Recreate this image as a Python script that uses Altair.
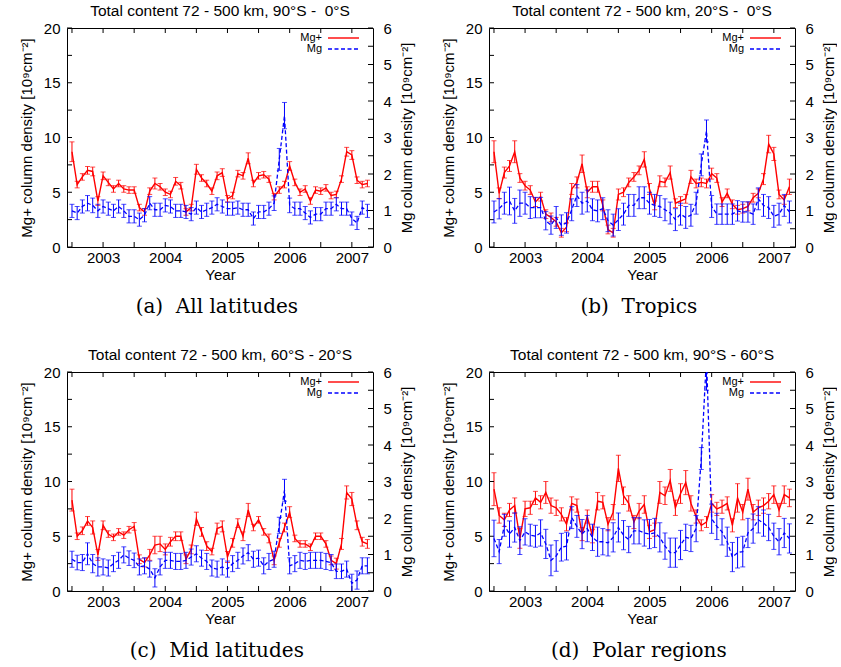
import altair as alt
import pandas as pd

# ---------------- data: monthly means, Jul 2002 .. Apr 2007 ----------------
MONTHS = pd.period_range("2002-07", "2007-04", freq="M")
YEAR = [m.year + (m.month - 1) / 12 for m in MONTHS]

# (a) All latitudes, 90S-0S
A_MGP = [8.7, 5.7, 6.4, 7.0, 6.9, 4.2, 6.5, 5.9, 5.3, 5.8,
         5.3, 5.2, 5.2, 3.6, 3.2, 5.1, 5.8, 5.5, 5.0, 4.8,
         6.0, 5.6, 3.2, 3.6, 7.1, 6.3, 5.8, 5.1, 6.5, 6.8,
         4.4, 4.7, 6.7, 6.5, 8.1, 5.8, 6.5, 6.6, 6.2, 4.6,
         5.2, 5.7, 7.4, 5.9, 5.0, 5.3, 4.2, 5.2, 5.1, 5.4,
         4.7, 4.8, 6.2, 8.7, 8.4, 6.1, 5.7, 5.8]
A_MGP_ERR = [0.9, 0.3, 0.3, 0.35, 0.4, 0.4, 0.35, 0.3, 0.3, 0.3,
             0.3, 0.3, 0.3, 0.3, 0.3, 0.3, 0.5, 0.3, 0.3, 0.3,
             0.35, 0.3, 0.3, 0.3, 0.45, 0.3, 0.3, 0.3, 0.35, 0.35,
             0.3, 0.3, 0.3, 0.3, 0.5, 0.3, 0.3, 0.3, 0.3, 0.3,
             0.3, 0.3, 0.4, 0.3, 0.3, 0.3, 0.3, 0.3, 0.3, 0.3,
             0.3, 0.3, 0.3, 0.4, 0.4, 0.3, 0.3, 0.3]
A_MG = [0.99, 0.93, 1.11, 1.2, 1.14, 0.99, 1.11, 1.05, 0.99, 1.11,
        0.99, 0.84, 0.84, 0.75, 0.87, 1.2, 1.02, 1.02, 1.14, 1.11,
        0.99, 0.99, 0.96, 0.9, 1.08, 0.96, 1.02, 1.08, 1.17, 1.11,
        1.05, 1.05, 1.08, 1.02, 1.02, 0.78, 0.96, 0.96, 1.05, 1.2,
        2.4, 3.6, 1.14, 1.05, 1.05, 0.93, 0.81, 0.9, 0.9, 1.05,
        1.05, 1.17, 1.05, 1.05, 0.78, 0.66, 1.08, 0.99]
A_MG_ERR = [0.18, 0.18, 0.18, 0.21, 0.2, 0.18, 0.18, 0.18, 0.18, 0.18,
            0.18, 0.18, 0.18, 0.18, 0.18, 0.18, 0.18, 0.18, 0.18, 0.18,
            0.18, 0.18, 0.18, 0.18, 0.18, 0.18, 0.18, 0.18, 0.18, 0.18,
            0.18, 0.18, 0.18, 0.18, 0.18, 0.18, 0.18, 0.18, 0.18, 0.2,
            0.3, 0.36, 0.2, 0.18, 0.18, 0.18, 0.18, 0.18, 0.18, 0.18,
            0.18, 0.18, 0.18, 0.18, 0.18, 0.18, 0.18, 0.18]

# (b) Tropics, 20S-0S
B_MGP = [8.7, 4.9, 6.8, 7.4, 8.7, 6.3, 5.6, 5.2, 4.1, 4.6,
         3.0, 2.7, 2.3, 1.3, 1.8, 5.3, 5.9, 7.6, 5.0, 5.5,
         5.5, 3.8, 1.6, 1.3, 4.8, 5.0, 5.9, 6.4, 7.0, 8.0,
         5.3, 3.8, 6.0, 5.9, 6.8, 4.0, 4.2, 4.4, 6.4, 5.8,
         5.9, 5.8, 6.7, 6.3, 4.1, 4.9, 3.9, 3.4, 3.5, 3.7,
         4.5, 4.9, 6.2, 9.4, 8.5, 4.8, 4.3, 5.5]
B_MGP_ERR = [1.0, 0.5, 0.5, 0.5, 1.0, 0.4, 0.4, 0.4, 0.4, 0.4,
             0.4, 0.4, 0.4, 0.4, 0.4, 0.5, 0.5, 0.8, 0.5, 0.5,
             0.5, 0.5, 0.4, 0.4, 0.5, 0.4, 0.4, 0.4, 0.4, 0.7,
             0.5, 0.4, 0.5, 0.4, 0.6, 0.4, 0.4, 0.4, 0.6, 0.4,
             0.4, 0.4, 0.5, 0.4, 0.4, 0.4, 0.4, 0.4, 0.4, 0.4,
             0.4, 0.4, 0.5, 0.8, 0.6, 0.4, 0.4, 0.7]
B_MG = [0.96, 1.05, 1.2, 1.26, 0.99, 1.2, 1.2, 1.08, 1.08, 1.08,
        0.72, 0.6, 0.81, 0.6, 0.66, 1.02, 1.41, 1.2, 1.26, 1.02,
        0.99, 1.05, 0.72, 0.6, 0.75, 0.9, 1.14, 1.14, 1.35, 1.35,
        1.2, 1.14, 1.11, 1.02, 0.93, 0.75, 0.9, 0.81, 0.87, 1.2,
        2.25, 3.18, 1.11, 0.9, 0.9, 0.9, 0.9, 0.99, 0.96, 0.96,
        0.9, 1.32, 1.14, 1.08, 0.84, 0.9, 1.14, 0.96]
B_MG_ERR = [0.3, 0.28, 0.3, 0.38, 0.34, 0.36, 0.3, 0.3, 0.28, 0.28,
            0.25, 0.25, 0.3, 0.28, 0.28, 0.3, 0.3, 0.3, 0.3, 0.3,
            0.3, 0.3, 0.3, 0.3, 0.3, 0.3, 0.3, 0.3, 0.3, 0.3,
            0.3, 0.3, 0.3, 0.3, 0.3, 0.3, 0.3, 0.3, 0.3, 0.3,
            0.3, 0.3, 0.3, 0.28, 0.28, 0.28, 0.28, 0.28, 0.28, 0.28,
            0.28, 0.3, 0.3, 0.3, 0.3, 0.3, 0.3, 0.3]

# (c) Mid latitudes, 60S-20S
C_MGP = [8.3, 5.0, 5.5, 6.4, 5.8, 3.3, 6.0, 5.2, 4.9, 5.4,
         5.1, 5.6, 5.9, 2.9, 2.6, 3.3, 4.2, 4.3, 3.8, 4.5,
         5.0, 5.0, 2.9, 3.8, 6.6, 5.4, 4.1, 3.6, 5.7, 5.9,
         3.1, 4.4, 6.2, 5.0, 7.4, 5.8, 6.5, 5.4, 4.8, 2.8,
         4.4, 5.8, 7.2, 4.8, 4.3, 4.3, 4.0, 5.0, 5.0, 4.3,
         2.8, 2.5, 4.3, 9.0, 8.4, 6.0, 4.5, 4.3]
C_MGP_ERR = [1.0, 0.3, 0.35, 0.4, 0.6, 0.5, 0.4, 0.3, 0.3, 0.3,
             0.3, 0.3, 0.35, 0.4, 0.4, 0.5, 0.8, 0.7, 0.5, 0.4,
             0.4, 0.4, 0.4, 0.4, 0.6, 0.4, 0.4, 0.3, 0.5, 0.5,
             0.5, 0.4, 0.4, 0.4, 0.6, 0.3, 0.3, 0.3, 0.4, 0.4,
             0.4, 0.4, 0.5, 0.3, 0.3, 0.3, 0.3, 0.3, 0.3, 0.3,
             0.4, 0.5, 0.5, 0.6, 0.6, 0.4, 0.4, 0.4]
C_MG = [0.87, 0.78, 0.78, 1.02, 0.75, 0.66, 0.66, 0.63, 0.75, 0.84,
        0.99, 0.9, 0.84, 0.66, 0.69, 0.6, 0.36, 0.66, 0.84, 0.84,
        0.81, 0.81, 0.84, 0.93, 1.02, 0.9, 0.81, 0.63, 0.6, 0.66,
        0.6, 0.75, 0.84, 0.96, 1.05, 0.87, 0.9, 0.69, 0.81, 0.87,
        1.8, 2.76, 0.69, 0.75, 0.84, 0.81, 0.84, 0.84, 0.84, 0.81,
        0.78, 0.54, 0.54, 0.6, 0.21, 0.3, 0.69, 0.69]
C_MG_ERR = [0.22, 0.2, 0.22, 0.3, 0.25, 0.25, 0.22, 0.22, 0.22, 0.22,
            0.22, 0.2, 0.2, 0.22, 0.22, 0.22, 0.25, 0.22, 0.22, 0.22,
            0.22, 0.22, 0.22, 0.22, 0.22, 0.22, 0.22, 0.22, 0.22, 0.22,
            0.22, 0.22, 0.22, 0.22, 0.22, 0.22, 0.22, 0.22, 0.22, 0.22,
            0.22, 0.3, 0.22, 0.22, 0.22, 0.22, 0.22, 0.22, 0.22, 0.22,
            0.22, 0.2, 0.2, 0.22, 0.25, 0.25, 0.22, 0.22]

# (d) Polar regions, 90S-60S
D_MGP = [9.3, 6.9, 6.5, 7.4, 7.8, 4.8, 7.5, 7.6, 8.5, 8.1,
         9.0, 7.8, 7.6, 7.0, 6.1, 8.0, 7.8, 5.2, 6.8, 5.0,
         8.2, 8.1, 6.1, 7.2, 11.2, 8.7, 8.0, 6.3, 7.3, 7.9,
         5.4, 5.6, 9.0, 8.7, 10.1, 7.6, 8.9, 9.9, 8.0, 6.8,
         6.0, 6.3, 8.0, 7.5, 7.7, 8.0, 6.0, 8.5, 7.2, 9.3,
         7.2, 7.6, 7.8, 8.2, 8.8, 7.4, 8.8, 8.5]
D_MGP_ERR = [1.5, 0.7, 0.6, 0.6, 0.7, 0.9, 0.7, 0.6, 0.6, 0.6,
             1.0, 0.7, 0.7, 0.6, 0.6, 0.6, 0.6, 0.6, 0.6, 0.6,
             0.8, 0.6, 0.6, 0.7, 1.2, 0.8, 0.7, 0.6, 0.7, 0.8,
             0.6, 0.6, 1.0, 0.8, 1.0, 0.7, 0.9, 1.1, 0.7, 0.6,
             0.5, 0.5, 0.8, 0.6, 0.6, 0.6, 0.6, 1.3, 0.7, 1.0,
             0.7, 0.7, 0.7, 0.7, 0.8, 0.6, 0.8, 0.8]
D_MG = [1.44, 1.08, 1.8, 1.56, 1.74, 1.38, 1.62, 1.53, 1.5, 1.59,
        1.29, 0.84, 0.96, 1.2, 1.23, 2.01, 1.77, 1.56, 1.71, 1.47,
        1.35, 1.35, 1.32, 1.47, 1.74, 1.53, 1.41, 1.65, 1.65, 1.59,
        1.56, 1.59, 1.47, 1.23, 1.05, 1.05, 1.26, 1.47, 1.44, 1.71,
        3.63, 6.4, 1.98, 1.77, 1.62, 1.35, 0.93, 1.05, 1.08, 1.59,
        1.71, 1.95, 1.86, 1.74, 1.5, 1.35, 1.59, 1.44]
D_MG_ERR = [0.5, 0.33, 0.3, 0.36, 0.4, 0.38, 0.36, 0.3, 0.3, 0.36,
            0.4, 0.42, 0.42, 0.38, 0.38, 0.3, 0.3, 0.4, 0.36, 0.36,
            0.4, 0.36, 0.36, 0.4, 0.4, 0.4, 0.36, 0.36, 0.36, 0.36,
            0.4, 0.4, 0.4, 0.36, 0.4, 0.4, 0.4, 0.36, 0.36, 0.36,
            0.3, 0.9, 0.4, 0.36, 0.36, 0.4, 0.4, 0.42, 0.42, 0.4,
            0.4, 0.36, 0.36, 0.36, 0.36, 0.36, 0.4, 0.4]

PANELS = [
    ("(a)\u00a0\u00a0All latitudes", "Total content 72 - 500 km, 90°S - \u00a00°S", A_MGP, A_MGP_ERR, A_MG, A_MG_ERR),
    ("(b)\u00a0\u00a0Tropics", "Total content 72 - 500 km, 20°S - \u00a00°S", B_MGP, B_MGP_ERR, B_MG, B_MG_ERR),
    ("(c)\u00a0\u00a0Mid latitudes", "Total content 72 - 500 km, 60°S - 20°S", C_MGP, C_MGP_ERR, C_MG, C_MG_ERR),
    ("(d)\u00a0\u00a0Polar regions", "Total content 72 - 500 km, 90°S - 60°S", D_MGP, D_MGP_ERR, D_MG, D_MG_ERR),
]

LEGEND_LABELS = ["Mg+", "Mg"]
X_DOMAIN = [2002.42, 2007.34]
X_LABELS = [2003, 2004, 2005, 2006, 2007]
X_TICKS = [2002.5, 2003.0, 2003.5, 2004.0, 2004.5, 2005.0, 2005.5, 2006.0, 2006.5, 2007.0]
YL_LABELS = [0, 5, 10, 15, 20]
YL_TICKS = [0, 2.5, 5, 7.5, 10, 12.5, 15, 17.5, 20]
YR_LABELS = [0, 1, 2, 3, 4, 5, 6]
YR_TICKS = [0, 0.5, 1, 1.5, 2, 2.5, 3, 3.5, 4, 4.5, 5, 5.5, 6]

W, H = 306, 219
RED, BLUE = "#ff0000", "#0000ff"
SANS = "Liberation Sans"
SERIF = "DejaVu Serif"


def panel(caption, title, mgp, mgp_err, mg, mg_err):
    df = pd.DataFrame({"year": YEAR, "mgp": mgp, "mgp_err": mgp_err, "mg": mg, "mg_err": mg_err})
    df["mgp_lo"] = df["mgp"] - df["mgp_err"]
    df["mgp_hi"] = df["mgp"] + df["mgp_err"]
    df["mg_lo"] = df["mg"] - df["mg_err"]
    df["mg_hi"] = df["mg"] + df["mg_err"]

    xs = alt.Scale(domain=X_DOMAIN, nice=False, zero=False)
    xaxis = alt.Axis(values=X_LABELS, format="d", title="Year", labelPadding=3, titlePadding=2)

    def X(f):
        return alt.X(f + ":Q", scale=xs, axis=xaxis)

    ls = alt.Scale(domain=[0, 20], nice=False, zero=False)
    laxis = alt.Axis(values=YL_LABELS, title="Mg+ column density [10⁹cm⁻²]", labelPadding=7, titlePadding=9)
    rs = alt.Scale(domain=[0, 6], nice=False, zero=False)
    raxis = alt.Axis(orient="right", values=YR_LABELS, title="Mg column density [10⁹cm⁻²]",
                     labelPadding=10, titlePadding=8, titleAngle=270, titleBaseline="top")

    def YL(f):
        return alt.Y(f + ":Q", scale=ls, axis=laxis)

    def YR(f):
        return alt.Y(f + ":Q", scale=rs, axis=raxis)

    base = alt.Chart(df)
    leg = pd.DataFrame({"t": LEGEND_LABELS})

    red = alt.layer(
        base.mark_rule(color=RED, strokeWidth=1, clip=True).encode(x=X("year"), y=YL("mgp_lo"), y2="mgp_hi:Q"),
        base.mark_tick(color=RED, orient="horizontal", size=5, thickness=1, clip=True).encode(x=X("year"), y=YL("mgp_lo")),
        base.mark_tick(color=RED, orient="horizontal", size=5, thickness=1, clip=True).encode(x=X("year"), y=YL("mgp_hi")),
        base.mark_line(color=RED, strokeWidth=1.4, clip=True).encode(x=X("year"), y=YL("mgp")),
        alt.Chart(pd.DataFrame({"xt": X_TICKS})).mark_rule(color="black").encode(
            x=X("xt"), y=alt.value(H), y2=alt.value(H - 5)),
        alt.Chart(pd.DataFrame({"xt": X_TICKS})).mark_rule(color="black").encode(
            x=X("xt"), y=alt.value(0), y2=alt.value(5)),
        alt.Chart(pd.DataFrame({"yt": YL_TICKS})).mark_rule(color="black").encode(
            y=YL("yt"), x=alt.value(0), x2=alt.value(5)),
        alt.Chart(leg).transform_filter(alt.datum.t == "Mg+").mark_text(
            align="right", baseline="middle", font=SANS, fontSize=11, color="black").encode(
            text="t:N", x=alt.value(W - 51), y=alt.value(10)),
        alt.Chart(leg).transform_filter(alt.datum.t == "Mg+").mark_rule(color=RED, strokeWidth=1.4).encode(
            x=alt.value(W - 45), x2=alt.value(W - 14), y=alt.value(10)),
    )
    blue = alt.layer(
        base.mark_rule(color=BLUE, strokeWidth=1, clip=True).encode(x=X("year"), y=YR("mg_lo"), y2="mg_hi:Q"),
        base.mark_tick(color=BLUE, orient="horizontal", size=5, thickness=1, clip=True).encode(x=X("year"), y=YR("mg_lo")),
        base.mark_tick(color=BLUE, orient="horizontal", size=5, thickness=1, clip=True).encode(x=X("year"), y=YR("mg_hi")),
        base.mark_line(color=BLUE, strokeWidth=1.3, strokeDash=[4, 2.5], clip=True).encode(x=X("year"), y=YR("mg")),
        alt.Chart(pd.DataFrame({"yt": YR_TICKS})).mark_rule(color="black").encode(
            y=YR("yt"), x=alt.value(W - 5), x2=alt.value(W)),
        alt.Chart(leg).transform_filter(alt.datum.t == "Mg").mark_text(
            align="right", baseline="middle", font=SANS, fontSize=11, color="black").encode(
            text="t:N", x=alt.value(W - 51), y=alt.value(21)),
        alt.Chart(leg).transform_filter(alt.datum.t == "Mg").mark_rule(
            color=BLUE, strokeWidth=1.3, strokeDash=[4, 2.5]).encode(
            x=alt.value(W - 45), x2=alt.value(W - 14), y=alt.value(21)),
    )
    lay = alt.layer(red, blue).resolve_scale(y="independent").properties(
        width=W, height=H,
        title=alt.TitleParams(title, font=SANS, fontSize=15.5, fontWeight="normal", color="black",
                              anchor="middle", offset=2),
    )
    return alt.vconcat(lay).properties(
        title=alt.TitleParams(caption, orient="bottom", font=SERIF, fontSize=20, fontWeight="normal",
                              color="black", anchor="middle", offset=14)
    )


pa, pb, pc, pd_ = [panel(*p) for p in PANELS]
chart = alt.vconcat(
    alt.hconcat(pa, pb, spacing=25),
    alt.hconcat(pc, pd_, spacing=25),
    spacing=30,
).properties(
    padding={"left": 18, "top": 3, "right": 0, "bottom": 0}
).configure_view(
    stroke="black", strokeWidth=1
).configure_axis(
    domain=False, ticks=False, grid=False,
    labelFont=SANS, labelFontSize=15, labelColor="black",
    titleFont=SANS, titleFontSize=15, titleFontWeight="normal", titleColor="black",
)

chart.save("out.html", embed_options={"renderer": "svg", "actions": False})
